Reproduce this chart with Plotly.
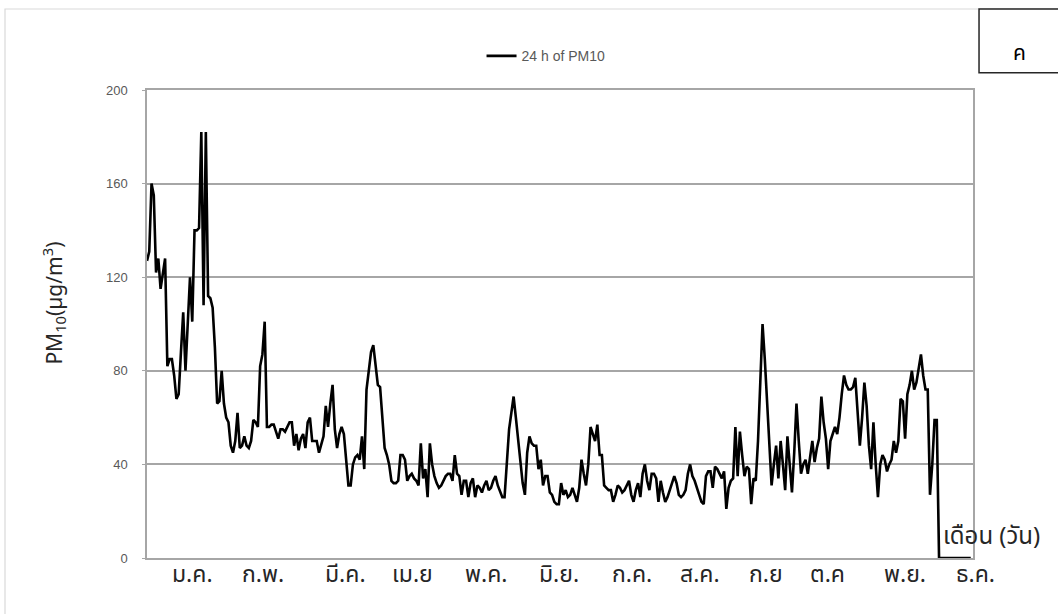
import plotly.graph_objects as go

# Daily 24-h PM10 (µg/m3), day index 0..364
pm10 = [
    127, 131, 160, 155, 122, 128, 115, 122, 128, 82,
    85, 85, 78, 68, 70, 88, 105, 80, 100, 120,
    101, 140, 140, 141, 182, 108, 182, 112, 111, 107,
    90, 66, 67, 80, 66, 60, 58, 48, 45, 50,
    62, 47, 48, 52, 48, 47, 50, 59, 58, 56,
    82, 87, 101, 56, 56, 57, 57, 54, 51, 55,
    55, 54, 56, 58, 58, 48, 53, 46, 51, 53,
    47, 58, 60, 50, 50, 50, 45, 48, 52, 65,
    56, 66, 74, 55, 47, 53, 56, 53, 40, 31,
    31, 40, 43, 44, 42, 52, 38, 72, 80, 88,
    91, 82, 74, 73, 60, 47, 44, 40, 33, 32,
    32, 33, 44, 44, 42, 33, 35, 36, 34, 33,
    31, 49, 34, 38, 26, 49, 40, 35, 32, 30,
    31, 33, 35, 36, 36, 33, 44, 36, 35, 27,
    33, 33, 26, 32, 34, 26, 31, 30, 28, 31,
    33, 29, 30, 33, 35, 31, 28, 26, 26, 42,
    55, 62, 69, 60, 50, 40, 32, 27, 45, 52,
    49, 48, 48, 38, 42, 31, 35, 35, 28, 27,
    24, 23, 23, 32, 27, 29, 26, 27, 30, 27,
    24, 30, 42, 36, 31, 40, 56, 53, 50, 57,
    44, 44, 31, 30, 29, 29, 24, 27, 31, 30,
    28, 29, 31, 33, 27, 24, 29, 32, 26, 36,
    40, 33, 29, 36, 36, 34, 24, 33, 28, 24,
    26, 29, 31, 35, 32, 27, 26, 27, 29, 36,
    40, 35, 33, 30, 28, 24, 23, 35, 37, 37,
    30, 39, 38, 36, 34, 37, 21, 30, 33, 34,
    56, 35, 54, 44, 35, 39, 38, 23, 34, 33,
    50, 75, 100, 85, 68, 50, 31, 40, 48, 34,
    50, 40, 29, 52, 40, 28, 45, 66, 50, 36,
    40, 42, 36, 44, 50, 41, 47, 51, 69, 58,
    51, 38, 50, 53, 56, 53, 60, 70, 78, 74,
    72, 72, 73, 77, 60, 48, 60, 75, 65, 48,
    38, 58, 40, 26, 40, 44, 42, 37, 40, 42,
    50, 45, 50, 68, 67, 51, 70, 74, 80, 72,
    75, 82, 87, 78, 72, 72, 27, 40, 59, 59,
    0, 0, 0, 0, 0, 0, 0, 0, 0, 0,
    0, 0, 0, 0, 0,
]
days = list(range(len(pm10)))
x_range = [0, 365]

month_labels = ["ม.ค.", "ก.พ.", "มี.ค.", "เม.ย", "พ.ค.", "มิ.ย.",
                "ก.ค.", "ส.ค.", "ก.ย", "ต.ค", "พ.ย.", "ธ.ค."]
month_pos = [20.3, 51.3, 87.5, 117.5, 149.8, 182.0,
             214.3, 244.4, 273.5, 300.9, 335.0, 366.3]
y_ticks = [0, 40, 80, 120, 160, 200]

series_name = "24 h of PM10"
y_title = "PM<sub>10</sub>(µg/m<sup>3</sup>)"
x_title = "เดือน (วัน)"
panel_label = "ค"

FONT = "Liberation Sans Narrow, Liberation Sans, Noto Sans, sans-serif"
THAI = "Noto Sans Thai, Loma, Garuda, Tlwg Typist, Noto Sans, DejaVu Sans, sans-serif"

fig = go.Figure()
fig.add_trace(go.Scatter(
    x=days, y=pm10, mode="lines", name=series_name,
    line=dict(color="black", width=2.6), showlegend=True,
))

annotations = []
span = x_range[1] - x_range[0]
for lab, pos in zip(month_labels, month_pos):
    annotations.append(dict(
        x=(pos - x_range[0]) / span, y=0.005, xref="paper", yref="paper", text=lab,
        showarrow=False, xanchor="center", yanchor="top",
        font=dict(family=THAI, size=23, color="#262626"),
    ))
annotations.append(dict(
    x=-0.113, y=0.545, xref="paper", yref="paper", text=y_title, showarrow=False,
    textangle=-90, xanchor="center", yanchor="middle",
    font=dict(family="Noto Sans, sans-serif", size=21, color="#262626"),
))
annotations.append(dict(
    x=0.9613, y=0.045, xref="paper", yref="paper", text=x_title, showarrow=False,
    xanchor="left", yanchor="middle", font=dict(family=THAI, size=24, color="#262626"),
))
annotations.append(dict(
    x=1.056, y=1.079, xref="paper", yref="paper", text=panel_label, showarrow=False,
    xanchor="center", yanchor="middle", font=dict(family=THAI, size=21, color="black"),
))

shapes = [
    dict(type="rect", xref="paper", yref="paper", x0=-0.1719, x1=1.2, y0=-0.2, y1=1.1731,
         line=dict(color="#d9d9d9", width=1.2), fillcolor="rgba(0,0,0,0)", layer="below"),
    dict(type="rect", xref="paper", yref="paper", x0=1.0073, x1=1.11, y0=1.037, y1=1.1731,
         line=dict(color="#262626", width=1.5), fillcolor="white", layer="above"),
]

fig.update_layout(
    width=1058, height=614,
    margin=dict(l=147, r=85, t=90, b=56),
    paper_bgcolor="white", plot_bgcolor="white",
    font=dict(family=FONT, size=12, color="#595959"),
    showlegend=True,
    legend=dict(orientation="h", x=0.405, y=1.072, xanchor="left", yanchor="middle",
                bgcolor="rgba(0,0,0,0)", font=dict(family=FONT, size=14, color="#595959"),
                itemwidth=30),
    xaxis=dict(range=x_range, showticklabels=False, ticks="", showgrid=False,
               zeroline=False, showline=True, linecolor="#a6a6a6", linewidth=1.5, mirror=True,
               fixedrange=True),
    yaxis=dict(range=[0, 200], tickvals=y_ticks, showgrid=True, gridcolor="#a6a6a6",
               gridwidth=1.5, zeroline=False, showline=True, linecolor="#a6a6a6",
               linewidth=1.5, mirror=True, ticks="outside", ticklen=3, tickcolor="#a6a6a6",
               ticklabelstandoff=12, tickfont=dict(family=FONT, size=13, color="#595959")),
    annotations=annotations,
    shapes=shapes,
)

fig.write_html("out.html")
